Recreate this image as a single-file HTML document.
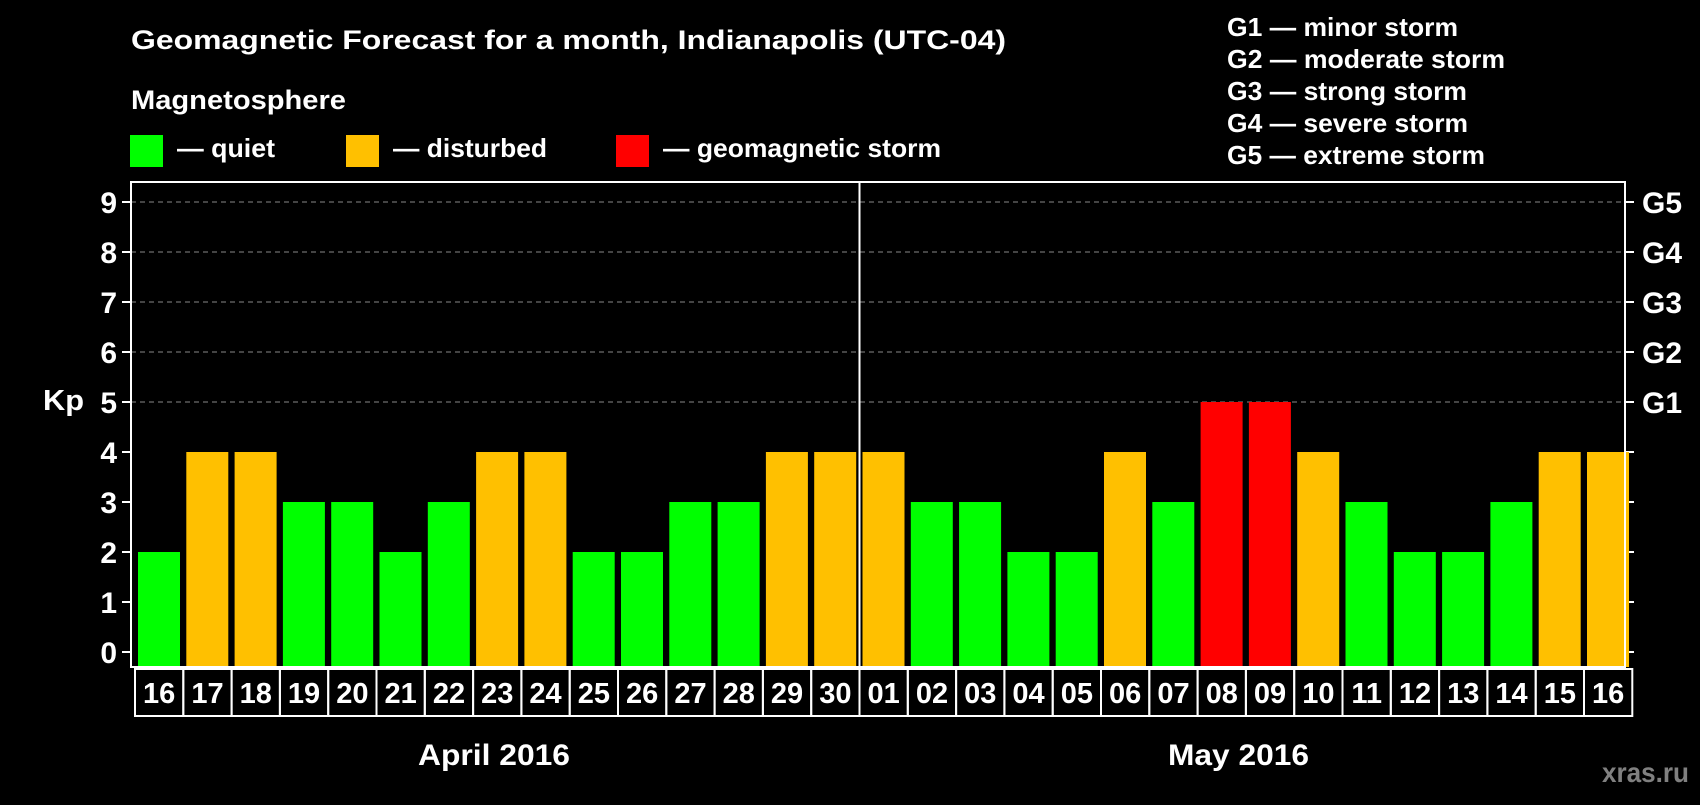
<!DOCTYPE html>
<html><head><meta charset="utf-8"><style>
body{margin:0;background:#000;width:1700px;height:800px;overflow:hidden;font-family:"Liberation Sans",sans-serif;}
svg text{font-family:"Liberation Sans",sans-serif;font-weight:bold;fill:#fff;}
</style></head><body>
<svg id="c" width="1700" height="800">
<text x="131" y="49" font-size="27" textLength="875" lengthAdjust="spacingAndGlyphs">Geomagnetic Forecast for a month, Indianapolis (UTC-04)</text>
<text x="131" y="109" font-size="27" textLength="215" lengthAdjust="spacingAndGlyphs">Magnetosphere</text>
<rect x="130" y="135" width="33" height="32" fill="#00ff00"/>
<text x="177" y="157" font-size="26" textLength="98" lengthAdjust="spacingAndGlyphs">— quiet</text>
<rect x="346" y="135" width="33" height="32" fill="#ffc000"/>
<text x="393" y="157" font-size="26" textLength="154" lengthAdjust="spacingAndGlyphs">— disturbed</text>
<rect x="616" y="135" width="33" height="32" fill="#ff0000"/>
<text x="663" y="157" font-size="26" textLength="278" lengthAdjust="spacingAndGlyphs">— geomagnetic storm</text>
<g font-size="26">
<text x="1227" y="36" textLength="231" lengthAdjust="spacingAndGlyphs">G1 — minor storm</text>
<text x="1227" y="68" textLength="278" lengthAdjust="spacingAndGlyphs">G2 — moderate storm</text>
<text x="1227" y="100" textLength="240" lengthAdjust="spacingAndGlyphs">G3 — strong storm</text>
<text x="1227" y="132" textLength="241" lengthAdjust="spacingAndGlyphs">G4 — severe storm</text>
<text x="1227" y="164" textLength="258" lengthAdjust="spacingAndGlyphs">G5 — extreme storm</text>
</g>
<text x="43" y="410" font-size="29" textLength="41" lengthAdjust="spacingAndGlyphs">Kp</text>
<g id="plot"></g>
<text x="418" y="765" font-size="30" textLength="152" lengthAdjust="spacingAndGlyphs">April 2016</text>
<text x="1168" y="765" font-size="30" textLength="141" lengthAdjust="spacingAndGlyphs">May 2016</text>
<text x="1602" y="782" font-size="28" textLength="87" lengthAdjust="spacingAndGlyphs" style="fill:#808080">xras.ru</text>
</svg>
<script>
const days=["16","17","18","19","20","21","22","23","24","25","26","27","28","29","30","01","02","03","04","05","06","07","08","09","10","11","12","13","14","15","16"];
const kp=[2,4,4,3,3,2,3,4,4,2,2,3,3,4,4,4,3,3,2,2,4,3,5,5,4,3,2,2,3,4,4];
const yTicks=[0,1,2,3,4,5,6,7,8,9];
const gLabels=["G1","G2","G3","G4","G5"];
const ns="http://www.w3.org/2000/svg";
const g=document.getElementById('plot');
const L=131,R=1625,T=182,B=667,x0=135,step=48.3;
const y=v=>652-v*50;
const xb=i=>x0+i*step;
function mk(t,a){const e=document.createElementNS(ns,t);for(const k in a)e.setAttribute(k,a[k]);g.appendChild(e);return e;}
yTicks.forEach(v=>{
 if(v>=5){const l=mk('line',{x1:L,x2:R,y1:y(v),y2:y(v),stroke:'#888','stroke-dasharray':'5,4','stroke-width':1});
 
 }
 const t1=mk('line',{x1:L-9,x2:L,y1:y(v),y2:y(v),stroke:'#fff','stroke-width':2});
 
 
 const t2=mk('line',{x1:R,x2:R+9,y1:y(v),y2:y(v),stroke:'#fff','stroke-width':2});
 
 
 const tx=mk('text',{x:L-14,y:y(v)+11,'font-size':30,'text-anchor':'end'});tx.textContent=v;
 
 
});
gLabels.forEach((s,i)=>{const tx=mk('text',{x:R+17,y:y(i+5)+11,'font-size':30});tx.textContent=s;
 
 });
kp.forEach((v,i)=>{
 const c=v>=5?'#ff0000':v>=4?'#ffc000':'#00ff00';
 const r=mk('rect',{x:xb(i)+3,y:y(v),width:42,height:B-y(v),fill:c});
 
 
 const b=mk('rect',{x:xb(i),y:B+2,width:step,height:47,fill:'none',stroke:'#fff','stroke-width':2});
 
 
 const t=mk('text',{x:xb(i)+step/2,y:B+36,'font-size':29,'text-anchor':'middle'});t.textContent=days[i];
 
 
});
const f=mk('rect',{x:L,y:T,width:R-L,height:B-T,fill:'none',stroke:'#fff','stroke-width':2});


const sep=days.indexOf("01");
const s=mk('line',{x1:xb(sep),x2:xb(sep),y1:T,y2:B+49,stroke:'#fff','stroke-width':2});


</script>
</body></html>
